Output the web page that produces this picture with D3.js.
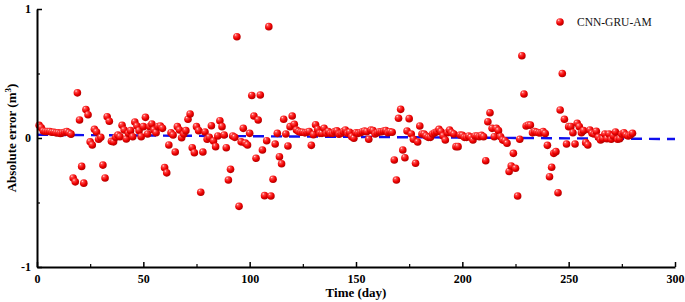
<!DOCTYPE html>
<html>
<head>
<meta charset="utf-8">
<script src="https://cdn.jsdelivr.net/npm/d3@7/dist/d3.min.js"></script>
<style>
  html, body { margin: 0; padding: 0; background: #fff; }
  svg { display: block; }
</style>
</head>
<body>
<svg id="chart" width="685" height="302"></svg>
<script>
// ---- data ----
const seriesName = "CNN-GRU-AM";
const errors = [
  0.098, 0.08, 0.054, 0.05, 0.05, 0.05, 0.045, 0.045, 0.04, 0.04, 0.035, 0.04, 0.045, 0.05, 0.04, 0.03,
  -0.31, -0.34, 0.35, 0.14, -0.22, -0.35, 0.22, 0.18, -0.03, -0.054, 0.067, 0.047, -0.01, 0.005,
  -0.21, -0.31, 0.165, 0.13, -0.026, -0.03, 0.005, 0.023, 0.01, 0.098,
  0.062, -0.008, 0.036, 0.057, 0.01, 0.124, 0.093, 0.057, 0.01, 0.088,
  0.16, 0.031, 0.088, 0.109, 0.062, 0.041, 0.088, 0.093, 0.075, -0.23,
  -0.27, -0.054, 0.041, 0.023, -0.109, 0.088, 0.062, 0.002, 0.031, 0.057,
  0.145, 0.186, -0.075, -0.114, 0.088, 0.057, -0.42, -0.109, 0.047, -0.01,
  0.005, 0.095, -0.023, -0.067, 0.016, 0.134, 0.088, 0.023, -0.075, -0.326,
  -0.243, 0.016, 0.005, 0.785, -0.53,
  -0.03, 0.075, -0.04, -0.054, 0.036, 0.33, 0.17, -0.157, 0.14, 0.333, -0.093, -0.447, -0.021, 0.863,
  -0.45, -0.32, -0.047, 0.036, -0.145, -0.2, 0.145, 0.031, -0.062, 0.088, 0.17, 0.106, 0.062,
  0.05, 0.045, 0.045, 0.04, 0.045, 0.05,
  -0.057, 0.026, 0.103, 0.067, 0.036, 0.036, 0.075,
  0.036, 0.05, 0.036, 0.036, 0.05, 0.055, 0.03, 0.036, 0.05, 0.062, 0.036, 0.045,
  0.01, -0.002, 0.041,
  0.036, 0.041, 0.049, 0.054, 0.049, -0.01, 0.062, 0.057, 0.031, 0.041, 0.049, 0.049, 0.054, 0.057, 0.041, 0.049, 0.045,
  -0.17, -0.326, 0.153, 0.222, -0.093, -0.153, 0.054, 0.15, 0.031, -0.01, -0.196, -0.031, 0.093, 0.031,
  0.031, 0.016, 0.005, 0.005, 0.031, 0.041, 0.049, 0.067, 0.049, 0.016, -0.016, 0.041, 0.062, 0.041, 0.031, -0.067, -0.067,
  0.023, 0.02, 0.005, 0.005, 0.016, 0.005, -0.016, 0.016, 0.016, 0.01, 0.02, 0.01,
  -0.176, 0.126, 0.196, 0.075, 0.01, 0.075, 0.057, 0.01, -0.016, -0.021, -0.041, -0.26, -0.217, -0.119,
  -0.235, -0.45, -0.01, 0.638, 0.341, 0.093, 0.1, 0.1,
  0.04, 0.05, 0.045, 0.04, 0.04, 0.05, 0.035,
  -0.057, -0.3, -0.227, -0.119, -0.106, -0.424, 0.217, 0.5, 0.145, -0.047,
  0.088, 0.088, 0.041, -0.047, 0.114, 0.088, 0.041, 0.057, -0.036, -0.054, 0.062, 0.036,
  0.031, 0.052, 0.005, -0.016, -0.005, 0.031, -0.005, 0.031, -0.01, 0.016, 0.047, -0.01, -0.005, 0.031, 0.041, 0.023, 0.016, 0.023, 0.036
];
const days = errors.map((_, i) => i + 1);
const trendX = [0, 300];
const trendY = [0.025, -0.008];
const xTicks = [0, 50, 100, 150, 200, 250, 300];
const xMinorTicks = [25, 75, 125, 175, 225, 275];
const yTicks = [-1, 0, 1];
const yTickLabels = ["-1", "0", "1"];
const yMinorTicks = [-0.5, 0.5];

// ---- drawing ----
const svg = d3.select("#chart");
const x = d3.scaleLinear().domain([0, 300]).range([37, 675]);
const y = d3.scaleLinear().domain([-1, 1]).range([267, 9]);
const serif = "'Liberation Serif', 'Times New Roman', serif";

const defs = svg.append("defs");
const grad = defs.append("radialGradient").attr("id", "ball")
  .attr("cx", "38%").attr("cy", "32%").attr("r", "68%")
  .attr("fx", "32%").attr("fy", "26%");
grad.append("stop").attr("offset", "0%").attr("stop-color", "#ffe4e4");
grad.append("stop").attr("offset", "22%").attr("stop-color", "#ff4a4a");
grad.append("stop").attr("offset", "65%").attr("stop-color", "#ee0000");
grad.append("stop").attr("offset", "100%").attr("stop-color", "#b00000");

// trend line (dashed)
svg.append("line")
  .attr("x1", x(trendX[0])).attr("y1", y(trendY[0]))
  .attr("x2", x(trendX[1])).attr("y2", y(trendY[1]))
  .attr("stroke", "#1010ee").attr("stroke-width", 2.4)
  .attr("stroke-dasharray", "11,7");

// points
svg.append("g").selectAll("circle")
  .data(days)
  .join("circle")
  .attr("cx", (d) => x(d))
  .attr("cy", (d, i) => y(errors[i]))
  .attr("r", 3.8)
  .attr("fill", "url(#ball)");

// axes
const xAxis = d3.axisBottom(x).tickValues(xTicks).tickSizeInner(-5).tickSizeOuter(0).tickPadding(7)
  .tickFormat(d3.format("d"));
const gx = svg.append("g").attr("transform", `translate(0,${y(-1)})`).call(xAxis);
gx.selectAll(".tick text").attr("font-family", serif).attr("font-weight", "bold")
  .attr("font-size", 12).attr("fill", "#000");
gx.select(".domain").attr("stroke-width", 2).attr("stroke", "#000");
gx.selectAll(".tick line").attr("stroke-width", 1.5);
const xMinor = d3.axisBottom(x).tickValues(xMinorTicks).tickSizeInner(-3).tickSizeOuter(0).tickFormat("");
const gxm = svg.append("g").attr("transform", `translate(0,${y(-1)})`).call(xMinor);
gxm.select(".domain").remove();
gxm.selectAll(".tick line").attr("stroke-width", 1.2);

const yAxis = d3.axisLeft(y).tickValues(yTicks).tickSizeInner(-5).tickSizeOuter(0).tickPadding(6)
  .tickFormat((d) => yTickLabels[yTicks.indexOf(d)]);
const gy = svg.append("g").attr("transform", `translate(${x(0)},0)`).call(yAxis);
gy.selectAll(".tick text").attr("font-family", serif).attr("font-weight", "bold")
  .attr("font-size", 12).attr("fill", "#000");
gy.select(".domain").attr("stroke-width", 2).attr("stroke", "#000");
gy.selectAll(".tick line").attr("stroke-width", 1.5);
const yMinor = d3.axisLeft(y).tickValues(yMinorTicks).tickSizeInner(-3).tickSizeOuter(0).tickFormat("");
const gym = svg.append("g").attr("transform", `translate(${x(0)},0)`).call(yMinor);
gym.select(".domain").remove();
gym.selectAll(".tick line").attr("stroke-width", 1.2);

// axis titles
svg.append("text")
  .attr("x", (x(0) + x(300)) / 2).attr("y", 297)
  .attr("text-anchor", "middle")
  .attr("font-family", serif).attr("font-weight", "bold").attr("font-size", 13)
  .text("Time (day)");

const yt = svg.append("text")
  .attr("transform", `translate(16,${y(0)}) rotate(-90)`)
  .attr("text-anchor", "middle")
  .attr("font-family", serif).attr("font-weight", "bold").attr("font-size", 13);
yt.append("tspan").text("Absolute error (m");
yt.append("tspan").attr("font-size", 9).attr("dy", -5).text("3");
yt.append("tspan").attr("dy", 5).text(")");

// legend
svg.append("circle").attr("cx", 560).attr("cy", 22).attr("r", 3.8).attr("fill", "url(#ball)");
svg.append("text").attr("x", 577).attr("y", 26)
  .attr("font-family", serif).attr("font-size", 11.5).attr("fill", "#111")
  .text(seriesName);
</script>
</body>
</html>
